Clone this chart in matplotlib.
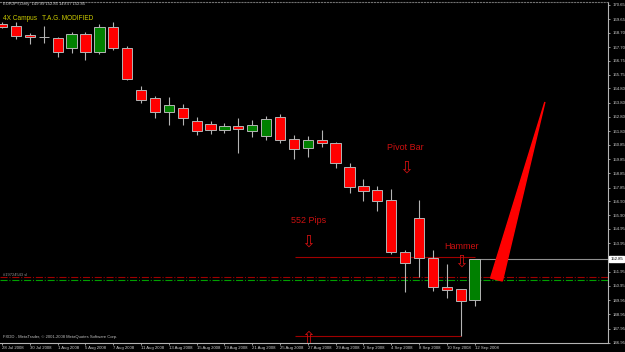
import matplotlib
matplotlib.use('Agg')
import matplotlib.pyplot as plt
from matplotlib.transforms import blended_transform_factory

# EURJPY daily bars, 28 Jul 2008 .. 12 Sep 2008
opens = [169.32, 169.18, 168.55, 168.38, 168.34, 167.64, 168.62, 167.35, 169.11, 167.64,
         164.69, 164.13, 163.15, 163.43, 162.52, 162.31, 161.89, 162.17, 161.82, 161.47,
         162.80, 161.26, 160.62, 161.18, 160.97, 159.29, 157.96, 157.68, 156.98, 153.33,
         155.72, 152.91, 150.88, 150.74, 149.99]
highs = [169.46, 169.46, 168.69, 169.18, 168.41, 168.76, 168.76, 169.32, 169.46, 167.78,
         164.97, 164.27, 164.20, 163.71, 162.80, 162.52, 162.38, 162.73, 162.59, 162.87,
         163.01, 161.54, 161.47, 161.89, 161.04, 159.57, 158.45, 157.96, 157.75, 153.47,
         156.98, 153.47, 152.49, 150.74, 152.85]
lows = [169.04, 168.27, 167.92, 167.99, 167.00, 167.28, 166.79, 167.21, 167.50, 165.39,
        163.78, 162.73, 162.24, 162.24, 161.54, 161.61, 161.68, 160.27, 161.40, 161.19,
        160.98, 159.85, 159.99, 160.69, 159.22, 157.47, 156.91, 156.21, 153.19, 150.53,
        151.58, 150.60, 150.11, 147.45, 149.57]
closes = [169.11, 168.48, 168.41, 168.38, 167.35, 168.62, 167.35, 169.11, 167.64, 165.46,
          163.99, 163.15, 163.64, 162.73, 161.82, 161.89, 162.17, 161.96, 162.24, 162.66,
          161.19, 160.55, 161.18, 160.97, 159.57, 157.89, 157.61, 156.91, 153.33, 152.56,
          152.91, 150.88, 150.67, 149.90, 152.85]

date_labels = ['28 Jul 2008', '30 Jul 2008', '1 Aug 2008', '5 Aug 2008', '7 Aug 2008',
               '11 Aug 2008', '13 Aug 2008', '15 Aug 2008', '19 Aug 2008', '21 Aug 2008',
               '25 Aug 2008', '27 Aug 2008', '29 Aug 2008', '2 Sep 2008', '4 Sep 2008',
               '8 Sep 2008', '10 Sep 2008', '12 Sep 2008']
price_ticks = [170.65, 169.65, 168.70, 167.70, 166.75, 165.75, 164.80, 163.80, 162.80,
               161.80, 160.85, 159.85, 158.85, 157.85, 156.90, 155.90, 154.95, 153.95,
               152.95, 151.95, 150.95, 149.95, 148.95, 147.95, 146.95]

bid = 152.85
pips_top = 152.97
pips_bottom = 147.45
sell_line = 151.58
buy_line = 151.37
wedge_x = [39.06, 35.15, 36.0]
wedge_y = [163.85, 151.50, 151.30]

plt.rcParams['font.family'] = ['Liberation Sans', 'DejaVu Sans']
grey = '#b4b4b4'

fig = plt.figure(figsize=(6.25, 3.52), dpi=100, facecolor='black')
ax = fig.add_axes([0, 9 / 352, 608 / 625, 341 / 352], facecolor='black')

n = len(opens)
xs = list(range(n))
ax.vlines(xs, lows, highs, color=grey, lw=0.8, zorder=2)
bottoms = [min(o, c) for o, c in zip(opens, closes)]
heights = [abs(c - o) for o, c in zip(opens, closes)]
colors = ['#008000' if c > o else '#ff0000' for o, c in zip(opens, closes)]
ax.bar(xs, heights, bottom=bottoms, width=0.74, color=colors, edgecolor=grey,
       linewidth=0.7, zorder=3)

# order lines
ax.axhline(sell_line, color='#a00000', lw=0.8, ls='-.', zorder=1)
ax.axhline(buy_line, color='#00a000', lw=0.8, ls='-.', zorder=1)
ax.text(0.1, sell_line + 0.12, '#19724543 sl', color='#909090', fontsize=2.9, va='center')

# 552 pips range lines + bid line
ax.hlines(pips_top, 21.1, 34, color='#a00000', lw=0.8, zorder=1)
ax.hlines(pips_bottom, 21.1, 33, color='#a00000', lw=0.8, zorder=1)
ax.hlines(bid, 34, 44, color='#909090', lw=0.8, zorder=1)

ax.fill(wedge_x, wedge_y, color='#ff0000', zorder=4)

red = '#cc1010'
arrow_kw = dict(color=red, fontsize=12, ha='center', va='center', family='DejaVu Sans')
ax.text(29.03, 160.63, 'Pivot Bar', color=red, fontsize=6.5, ha='center', va='center')
ax.text(29.06, 159.22, '\u21e9', **arrow_kw)
ax.text(22.05, 155.54, '552 Pips', color=red, fontsize=6.5, ha='center', va='center')
ax.text(22.01, 154.07, '\u21e9', **arrow_kw)
ax.text(33.06, 153.75, 'Hammer', color=red, fontsize=6.5, ha='center', va='center')
ax.text(33.06, 152.63, '\u21e9', **arrow_kw)
ax.text(22.0, 147.25, '\u21e7', clip_on=True, **arrow_kw)

ax.set_xlim(-0.15, 43.6)
ax.set_ylim(146.95, 170.86)

ax.set_xticks(xs[::2])
ax.set_xticklabels(date_labels, ha='left', fontsize=3.1, color='#d0d0d0')
ax.tick_params(axis='x', direction='out', length=1.5, width=0.6, color=grey, pad=1)

ax.yaxis.tick_right()
ax.set_yticks(price_ticks)
ax.set_yticklabels(['' if v == 152.95 else '%.2f' % v for v in price_ticks],
                   fontsize=3.1, color='#d0d0d0')
ax.tick_params(axis='y', direction='out', length=1.5, width=0.6, color=grey, pad=1.5)

ax.spines['left'].set_visible(False)
ax.spines['right'].set_color(grey)
ax.spines['bottom'].set_color(grey)
ax.spines['top'].set_color('#707070')
ax.spines['top'].set_linestyle(':')
for s in ['right', 'bottom', 'top']:
    ax.spines[s].set_linewidth(0.8)

trans = blended_transform_factory(ax.transAxes, ax.transData)
ax.text(1.004, bid, '%.2f' % bid, transform=trans, fontsize=3.1, color='black', va='center',
        ha='left', clip_on=False, zorder=10,
        bbox=dict(boxstyle='square,pad=0.25', fc='white', ec='white'))

fig.text(3 / 625, 1 - 4.5 / 352, 'EURJPY,Daily  149.99 152.85 149.57 152.85',
         color='#d0d0d0', fontsize=3, va='center')
fig.text(3 / 625, 1 - 18 / 352, '4X Campus   T.A.G. MODIFIED', color='#cccc00',
         fontsize=4.7, va='center')
fig.text(3 / 625, 1 - 337 / 352, 'FXDD - MetaTrader, \u00a9 2001-2008 MetaQuotes Software Corp.',
         color='#c0c0c0', fontsize=3, va='center')

fig.savefig('out.png', dpi=100, facecolor='black')
